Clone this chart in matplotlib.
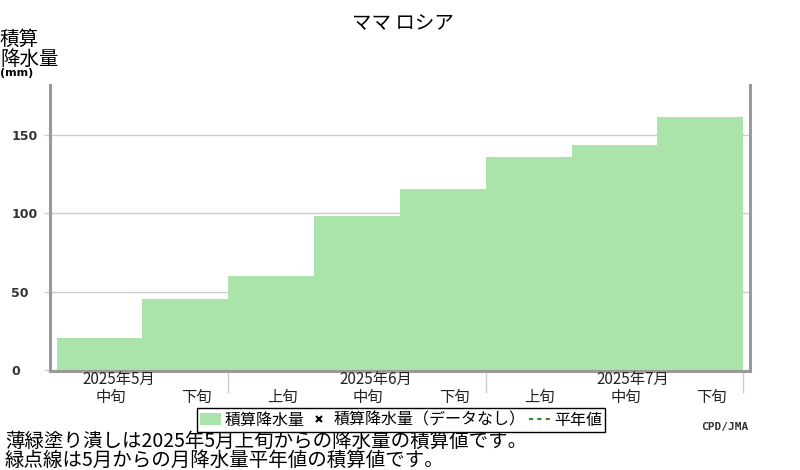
import numpy as np
import matplotlib.pyplot as plt
from matplotlib.patches import Patch
from matplotlib.lines import Line2D

plt.rcParams['font.family'] = ['Noto Sans CJK JP', 'DejaVu Sans']

# データ (旬ごとの積算降水量 mm)
decades = ["中旬", "下旬", "上旬", "中旬", "下旬", "上旬", "中旬", "下旬"]
months = ["2025年5月", "2025年6月", "2025年7月"]
month_idx = [0, 3, 6]          # 月ラベルを置く旬
month_sep = [2, 5, 8]          # 月の区切り
precip_cum = [20, 45, 60, 98, 115.5, 136, 143.5, 161.5]
yticks = [0, 50, 100, 150]

fig = plt.figure(figsize=(8, 4.7), dpi=100)
ax = fig.add_axes([0.0625, 0.2106, 0.875, 0.6085])

x = np.arange(len(precip_cum))
ax.bar(x, precip_cum, width=1.0, align='edge', color='#abe4ab', linewidth=0, zorder=2)

ax.set_xlim(-0.078, 8.08)
ax.set_ylim(-0.8, 182)

# 軸
ax.spines['top'].set_visible(False)
for s in ['left', 'bottom', 'right']:
    ax.spines[s].set_color('#999999')
    ax.spines[s].set_linewidth(2.2)

ax.set_axisbelow(True)
ax.set_yticks(yticks)
ax.yaxis.grid(True, color='#cccccc', lw=1)
ax.tick_params(axis='y', length=4, color='#cccccc', width=1, labelsize=9, pad=24,
               labelcolor='#333333')
for lbl in ax.get_yticklabels():
    lbl.set_ha('left')
    lbl.set_fontweight('bold')
    lbl.set_family('DejaVu Sans')

ax.set_xticks(month_sep)
ax.set_xticklabels([])
ax.tick_params(axis='x', length=16, color='#cccccc', width=1, direction='out')

tr = ax.get_xaxis_transform()
for i, lab in enumerate(decades):
    ax.text(i + 0.63, -0.094, lab, transform=tr, ha='center', va='center', fontsize=11, color='#222222')
for i, lab in zip(month_idx, months):
    ax.text(i + 0.72, -0.031, lab, transform=tr, ha='center', va='center', fontsize=11, color='#222222')

# タイトル・軸ラベル
fig.text(403 / 800, 1 - 24 / 470, "ママ ロシア", ha='center', va='center', fontsize=14)
fig.text(0, 1 - 39 / 470, "積算", ha='left', va='center', fontsize=14)
fig.text(0, 1 - 59 / 470, "降水量", ha='left', va='center', fontsize=14)
fig.text(0, 1 - 73 / 470, "(mm)", ha='left', va='center', fontsize=8, fontweight='bold',
         family='DejaVu Sans')

# 凡例
handles = [Patch(facecolor='#abe4ab', edgecolor='none'),
           Line2D([], [], marker='x', color='black', ls='none', markersize=5, mew=1.5),
           Line2D([], [], color='#2e8b2e', ls=(0, (2, 2)), lw=1.5)]
labels = ["積算降水量", "積算降水量（データなし）", "平年値"]
leg = fig.legend(handles, labels, loc='center', bbox_to_anchor=(401 / 800, 1 - 420 / 470), ncol=3,
                 fontsize=11.5, frameon=True, fancybox=False, edgecolor='black', framealpha=1,
                 handlelength=1.3, handleheight=0.8, handletextpad=0.25, columnspacing=0.25,
                 borderpad=0.2, borderaxespad=0)
leg.get_frame().set_linewidth(1)

fig.text(748 / 800, 1 - 427 / 470, "CPD/JMA", ha='right', va='center', fontsize=8, fontweight='bold',
         family='DejaVu Sans Mono', color='#333333')

# 注記
fig.text(5 / 800, 1 - 441 / 470, "薄緑塗り潰しは2025年5月上旬からの降水量の積算値です。",
         ha='left', va='center', fontsize=14)
fig.text(5 / 800, 1 - 460 / 470, "緑点線は5月からの月降水量平年値の積算値です。",
         ha='left', va='center', fontsize=14)

fig.savefig('out.png', dpi=100)
